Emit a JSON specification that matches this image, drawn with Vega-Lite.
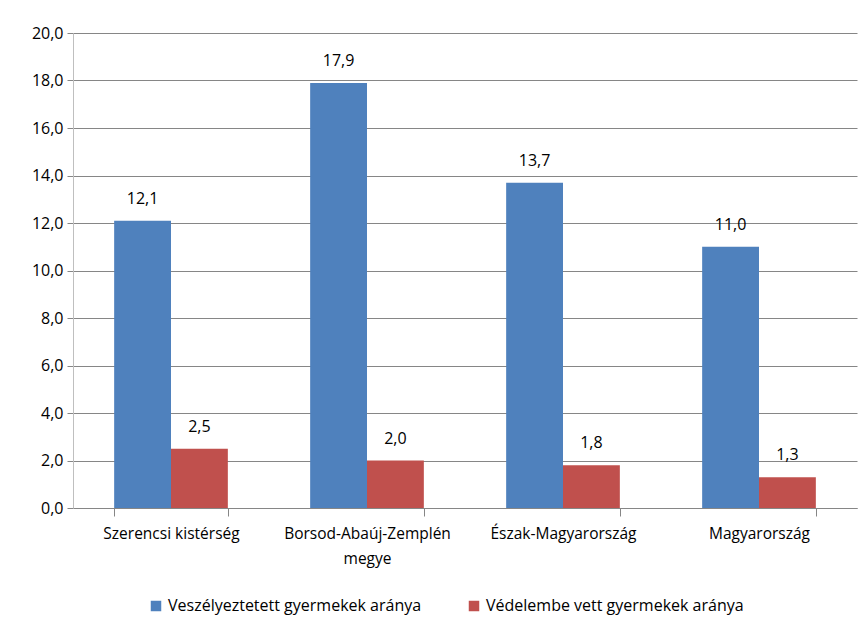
{
  "$schema": "https://vega.github.io/schema/vega-lite/v6.json",
  "width": 784,
  "height": 475,
  "autosize": {"type": "none"},
  "padding": {"left": 73, "top": 33, "right": 8, "bottom": 123},
  "config": {
    "locale": {"number": {"decimal": ",", "thousands": " ", "grouping": [3], "currency": ["", ""]}},
    "view": {"stroke": null},
    "font": "Open Sans",
    "axis": {"labelFont": "Open Sans", "labelColor": "#000000"}
  },
  "data": {
    "values": [
      {"region": "Szerencsi kistérség", "series": "Veszélyeztetett gyermekek aránya", "value": 12.1},
      {"region": "Szerencsi kistérség", "series": "Védelembe vett gyermekek aránya", "value": 2.5},
      {"region": "Borsod-Abaúj-Zemplén megye", "series": "Veszélyeztetett gyermekek aránya", "value": 17.9},
      {"region": "Borsod-Abaúj-Zemplén megye", "series": "Védelembe vett gyermekek aránya", "value": 2.0},
      {"region": "Észak-Magyarország", "series": "Veszélyeztetett gyermekek aránya", "value": 13.7},
      {"region": "Észak-Magyarország", "series": "Védelembe vett gyermekek aránya", "value": 1.8},
      {"region": "Magyarország", "series": "Veszélyeztetett gyermekek aránya", "value": 11.0},
      {"region": "Magyarország", "series": "Védelembe vett gyermekek aránya", "value": 1.3}
    ]
  },
  "encoding": {
    "x": {
      "field": "region", "type": "nominal", "sort": null, "title": null,
      "scale": {"paddingInner": 0.42, "paddingOuter": 0.21},
      "axis": {
        "labelAngle": 0, "labelPadding": 10, "labelLineHeight": 25, "labelFontSize": 15.5,
        "labelExpr": "datum.label == 'Borsod-Abaúj-Zemplén megye' ? ['Borsod-Abaúj-Zemplén', 'megye'] : datum.label",
        "domainColor": "#868686", "tickColor": "#868686", "tickBand": "extent", "tickSize": 8,
        "grid": false
      }
    },
    "xOffset": {"field": "series", "type": "nominal", "sort": null, "scale": {"paddingInner": 0, "paddingOuter": 0}},
    "y": {
      "field": "value", "type": "quantitative", "title": null,
      "scale": {"domain": [0, 20], "nice": false},
      "axis": {
        "values": [0, 2, 4, 6, 8, 10, 12, 14, 16, 18, 20], "format": ".1f", "labelFontSize": 16,
        "gridColor": "#868686", "domainColor": "#bfbfbf", "tickColor": "#868686", "tickSize": 6,
        "labelPadding": 4
      }
    }
  },
  "layer": [
    {
      "mark": {"type": "bar"},
      "encoding": {
        "color": {
          "field": "series", "type": "nominal", "sort": null, "title": null,
          "scale": {"range": ["#4F81BD", "#C0504D"]},
          "legend": {
            "orient": "none", "legendX": 75, "legendY": 565, "direction": "horizontal", "symbolType": "square",
            "symbolSize": 110, "symbolStrokeWidth": 0, "labelFontSize": 16, "labelFont": "Open Sans",
            "labelColor": "#000000", "labelLimit": 500, "labelOffset": 4, "columnPadding": 44, "padding": 0
          }
        }
      }
    },
    {
      "mark": {"type": "text", "baseline": "middle", "dy": -22, "fontSize": 16, "font": "Open Sans", "color": "#000000"},
      "encoding": {"text": {"field": "value", "type": "quantitative", "format": ".1f"}}
    }
  ]
}
